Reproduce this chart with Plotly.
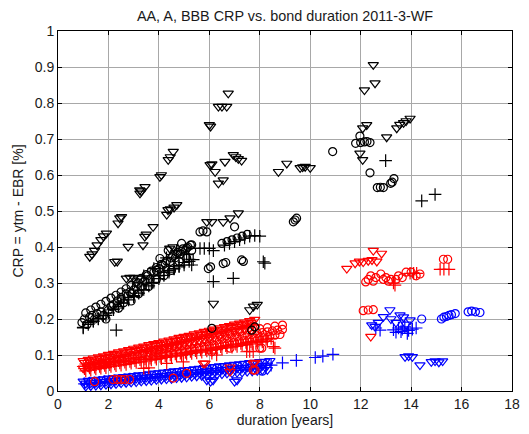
import plotly.graph_objects as go

# ---------------- data ----------------
# AA (blue)
aa_tri_x = [1.0,1.2,1.4,1.6,1.8,2.0,2.2,2.4,2.6,2.8,3.0,3.2,3.4,3.6,3.8,4.0,4.2,4.4,4.6,4.8,5.0,5.2,5.4,5.6,5.8,6.0,6.2,6.4,6.6,6.8,7.0,7.2,7.4,7.6,7.8,8.0,8.2,8.4,
            1.1,1.3,1.5,1.7,1.9,2.1,2.3,2.5,2.7,2.9,3.1,3.3,3.5,3.7,3.9,4.1,4.3,4.5,4.7,4.9,5.1,5.3,5.5,5.7,5.9,6.1,6.3,6.5,6.7,6.9,7.1,7.3,7.5,7.7,7.9,8.1,8.3,
            1.1,1.3,1.5,1.7,1.9,2.1,2.3,2.5,2.7,2.9,3.1,3.3,3.5,3.7,3.9,4.1,4.3,4.5,4.7,4.9,5.1,5.3,5.5,5.7,5.9,6.1,6.3,6.5,6.7,6.9,7.1,7.3,7.5,7.7,7.9,8.1,8.3,
            5.9,6.05,6.15,7.0,7.1,
            13.16,12.44,12.57,12.9,13.56,13.96,12.7,13.2,13.4,13.7,13.8,
            13.76,13.9,14.05,14.35,14.8,14.95,15.1,15.25]
aa_tri_y = [0.027,0.029,0.030,0.032,0.033,0.035,0.036,0.038,0.039,0.041,0.042,0.044,0.045,0.047,0.049,0.050,0.052,0.053,0.055,0.056,0.058,0.059,0.061,0.062,0.064,0.066,0.067,0.069,0.070,0.072,0.073,0.075,0.076,0.078,0.079,0.081,0.082,0.084,
            0.013,0.014,0.015,0.016,0.018,0.019,0.020,0.022,0.023,0.024,0.025,0.027,0.028,0.029,0.031,0.032,0.033,0.034,0.036,0.037,0.038,0.040,0.041,0.042,0.043,0.045,0.046,0.047,0.049,0.050,0.051,0.052,0.054,0.055,0.056,0.058,0.059,
            0.021,0.022,0.023,0.025,0.026,0.028,0.029,0.031,0.032,0.033,0.035,0.036,0.038,0.039,0.040,0.042,0.043,0.045,0.046,0.047,0.049,0.050,0.052,0.053,0.055,0.056,0.057,0.059,0.060,0.062,0.063,0.064,0.066,0.067,0.069,0.070,0.071,
            0.030,0.026,0.030,0.026,0.030,
            0.225,0.183,0.179,0.206,0.211,0.197,0.190,0.200,0.190,0.205,0.185,
            0.095,0.097,0.095,0.072,0.081,0.083,0.080,0.083]
aa_plus_x = [1.05,1.25,1.45,1.65,1.85,2.05,2.25,2.45,2.65,2.85,3.05,3.25,3.45,3.65,3.85,4.05,4.25,4.45,4.65,4.85,5.05,5.25,5.45,5.65,5.85,6.05,6.25,6.45,6.65,6.85,7.05,7.25,7.45,7.65,7.85,8.05,8.25,8.45,
             8.9,9.45,10.2,10.5,10.9,
             12.77,13.3,13.5,13.6,13.75,13.9,14.05,14.2,13.4,13.65,13.85,12.6]
aa_plus_y = [0.020,0.022,0.023,0.024,0.026,0.027,0.028,0.030,0.031,0.033,0.034,0.035,0.037,0.038,0.040,0.041,0.043,0.044,0.045,0.047,0.048,0.050,0.051,0.052,0.054,0.055,0.057,0.058,0.059,0.061,0.062,0.064,0.065,0.066,0.068,0.069,0.071,0.072,
             0.078,0.085,0.093,0.097,0.102,
             0.169,0.170,0.175,0.165,0.178,0.168,0.172,0.175,0.163,0.172,0.160,0.175]
aa_circ_x = [8.1,14.42,15.2,15.3,15.4,15.5,15.6,15.75,16.26,16.4,16.55,16.73]
aa_circ_y = [0.055,0.200,0.200,0.205,0.207,0.210,0.212,0.215,0.220,0.222,0.220,0.218]

# A (red)
a_tri_x = [1.0,1.2,1.4,1.6,1.8,2.0,2.2,2.4,2.6,2.8,3.0,3.2,3.4,3.6,3.8,4.0,4.2,4.4,4.6,4.8,5.0,5.2,5.4,5.6,5.8,6.0,6.2,6.4,6.6,6.8,7.0,7.2,7.4,7.6,7.8,
           1.0,1.2,1.4,1.6,1.8,2.0,2.2,2.4,2.6,2.8,3.0,3.2,3.4,3.6,3.8,4.0,4.2,4.4,4.6,4.8,5.0,5.2,5.4,5.6,5.8,6.0,6.2,6.4,6.6,6.8,7.0,7.2,7.4,7.6,7.8,
           1.05,1.25,1.45,1.65,1.85,2.05,2.25,2.45,2.65,2.85,3.05,3.25,3.45,3.65,3.85,4.05,4.25,4.45,4.65,4.85,5.05,5.25,5.45,5.65,5.85,6.05,6.25,6.45,6.65,6.85,7.05,7.25,7.45,7.65,
           5.83,6.82,7.74,5.76,6.82,7.81,
           11.45,11.78,11.95,12.1,12.3,12.45,12.64,12.5,12.83,12.4]
a_tri_y = [0.084,0.087,0.091,0.094,0.097,0.101,0.104,0.108,0.111,0.114,0.118,0.121,0.124,0.128,0.131,0.134,0.138,0.141,0.144,0.148,0.151,0.154,0.158,0.161,0.165,0.168,0.171,0.175,0.178,0.181,0.185,0.188,0.191,0.195,0.198,
           0.063,0.066,0.070,0.073,0.076,0.080,0.083,0.087,0.090,0.093,0.097,0.100,0.103,0.107,0.110,0.113,0.117,0.120,0.123,0.127,0.130,0.133,0.137,0.140,0.144,0.147,0.150,0.154,0.157,0.160,0.164,0.167,0.170,0.174,0.177,
           0.079,0.082,0.085,0.089,0.092,0.095,0.099,0.102,0.105,0.109,0.112,0.115,0.119,0.122,0.126,0.129,0.132,0.136,0.139,0.142,0.146,0.149,0.152,0.156,0.159,0.162,0.166,0.169,0.172,0.176,0.179,0.183,0.186,0.189,
           0.077,0.054,0.077,0.077,0.066,0.079,
           0.340,0.355,0.360,0.358,0.362,0.364,0.360,0.390,0.382,0.151]
a_plus_x = [1.1,1.3,1.5,1.7,1.9,2.1,2.3,2.5,2.7,2.9,3.1,3.3,3.5,3.7,3.9,4.1,4.3,4.5,4.7,4.9,5.1,5.3,5.5,5.7,5.9,6.1,6.3,6.5,6.7,6.9,7.1,7.3,7.5,7.7,
            1.1,1.3,1.5,1.7,1.9,2.1,2.3,2.5,2.7,2.9,3.1,3.3,3.5,3.7,3.9,4.1,4.3,4.5,4.7,4.9,5.1,5.3,5.5,5.7,5.9,6.1,6.3,6.5,6.7,6.9,7.1,7.3,7.5,7.7,7.9,8.1,8.3,
            1.05,1.25,1.45,1.65,1.85,2.05,2.25,2.45,2.65,2.85,3.05,3.25,3.45,3.65,3.85,4.05,4.25,4.45,4.65,4.85,5.05,5.25,5.45,5.65,5.85,6.05,6.25,6.45,6.65,6.85,7.05,7.25,7.45,7.65,7.85,8.05,8.25,8.45,
            1.0,1.2,1.4,1.6,1.8,2.0,2.2,2.4,2.6,2.8,3.0,3.2,3.4,
            3.4,3.6,4.31,4.97,6.1,6.29,7.48,7.6,7.74,8.54,8.6,
            13.36,13.3,15.15,15.3,15.5,13.96,14.1,14.22]
a_plus_y = [0.075,0.078,0.081,0.085,0.088,0.091,0.095,0.098,0.102,0.105,0.108,0.112,0.115,0.118,0.122,0.125,0.128,0.132,0.135,0.138,0.142,0.145,0.148,0.152,0.155,0.158,0.162,0.165,0.169,0.172,0.175,0.179,0.182,0.185,
            0.056,0.058,0.061,0.063,0.065,0.068,0.070,0.072,0.074,0.077,0.079,0.081,0.083,0.086,0.088,0.090,0.093,0.095,0.097,0.099,0.102,0.104,0.106,0.108,0.111,0.113,0.115,0.118,0.120,0.122,0.124,0.127,0.129,0.131,0.134,0.136,0.138,
            0.062,0.064,0.066,0.068,0.071,0.073,0.075,0.078,0.080,0.082,0.084,0.087,0.089,0.091,0.094,0.096,0.098,0.100,0.103,0.105,0.107,0.110,0.112,0.114,0.116,0.119,0.121,0.123,0.126,0.128,0.130,0.132,0.135,0.137,0.139,0.142,0.144,0.146,
            0.068,0.070,0.073,0.075,0.077,0.079,0.082,0.084,0.086,0.089,0.091,0.093,0.095,
            0.063,0.064,0.077,0.081,0.105,0.100,0.109,0.110,0.109,0.123,0.119,
            0.294,0.300,0.338,0.338,0.338,0.327,0.327,0.327]
a_circ_x = [3.6,3.8,4.0,4.2,4.4,4.6,4.8,5.0,5.2,5.4,5.6,5.8,6.0,6.2,6.4,6.6,6.8,7.0,7.2,7.4,7.6,7.8,8.0,8.2,8.4,8.6,8.8,
            3.7,3.9,4.1,4.3,4.5,4.7,4.9,5.1,5.3,5.5,5.7,5.9,6.1,6.3,6.5,6.7,6.9,7.1,7.3,7.5,7.7,7.9,8.1,8.3,8.5,8.7,8.9,
            6.0,6.4,6.8,7.2,7.6,8.0,8.3,8.6,8.9,
            1.45,2.18,2.35,2.5,2.65,2.84,4.57,5.1,7.74,7.81,6.09,6.82,8.0,8.08,
            12.3,12.4,12.5,12.6,12.8,12.9,13.1,13.2,13.4,13.5,13.65,13.8,14.0,14.2,14.35,12.2,13.0,
            15.28,15.45,12.1,12.3,12.5]
a_circ_y = [0.098,0.100,0.102,0.104,0.107,0.109,0.111,0.114,0.116,0.118,0.120,0.123,0.125,0.127,0.130,0.132,0.134,0.136,0.139,0.141,0.143,0.146,0.148,0.150,0.152,0.155,0.157,
            0.112,0.114,0.116,0.119,0.121,0.123,0.125,0.128,0.130,0.132,0.135,0.137,0.139,0.141,0.144,0.146,0.148,0.151,0.153,0.155,0.157,0.160,0.162,0.164,0.167,0.169,0.171,
            0.150,0.155,0.159,0.164,0.168,0.173,0.176,0.180,0.183,
            0.026,0.032,0.032,0.032,0.032,0.032,0.036,0.049,0.058,0.058,0.109,0.119,0.119,0.119,
            0.310,0.320,0.305,0.315,0.325,0.310,0.305,0.310,0.310,0.320,0.315,0.330,0.330,0.320,0.325,0.303,0.315,
            0.366,0.366,0.223,0.225,0.226]

# BBB (black)
bbb_tri_x = [6.75,6.36,6.5,6.69,6.0,6.05,4.57,4.37,4.45,4.04,4.1,3.45,3.25,3.3,6.03,6.1,6.23,6.62,6.95,7.05,7.15,7.28,6.36,6.55,
             2.52,4.31,4.45,4.6,4.71,7.15,5.9,6.1,6.55,6.82,1.26,1.35,1.45,1.55,1.7,1.8,1.92,2.45,2.38,2.25,2.35,2.78,3.37,3.44,3.5,3.77,
             4.43,4.56,3.24,4.36,2.71,2.85,3.0,3.17,6.16,7.6,7.75,7.9,8.74,9.07,9.6,9.7,9.8,10.0,
             12.5,12.57,12.15,12.24,12.08,13.03,13.43,13.55,13.7,13.8,13.96,11.97,12.08]
bbb_tri_y = [0.827,0.790,0.790,0.790,0.739,0.735,0.665,0.642,0.650,0.595,0.600,0.567,0.549,0.555,0.628,0.630,0.609,0.637,0.656,0.650,0.645,0.640,0.577,0.586,
             0.484,0.490,0.505,0.510,0.517,0.494,0.470,0.470,0.470,0.480,0.373,0.380,0.390,0.405,0.420,0.430,0.438,0.480,0.466,0.359,0.360,0.401,0.405,0.429,0.435,0.456,
             0.396,0.400,0.558,0.503,0.313,0.315,0.315,0.313,0.243,0.225,0.235,0.240,0.609,0.632,0.620,0.622,0.623,0.620,
             0.906,0.855,0.836,0.739,0.730,0.705,0.730,0.740,0.745,0.750,0.757,0.660,0.642]
bbb_circ_x = [0.95,1.05,1.15,1.25,1.35,1.45,1.55,1.7,1.8,2.0,2.1,2.2,2.35,2.5,2.6,2.7,2.85,3.0,3.1,3.2,3.3,3.45,3.55,3.65,3.8,3.9,4.0,4.04,4.15,4.25,4.37,4.45,4.55,4.65,4.75,4.85,4.95,5.05,5.15,5.25,
              1.1,1.3,1.5,1.7,1.9,2.1,2.3,2.5,2.7,2.9,3.1,3.3,3.5,3.7,3.9,4.1,4.3,4.5,4.7,4.9,5.1,5.3,
              4.2,4.5,4.8,5.1,5.3,4.9,3.6,3.9,3.2,2.9,2.4,1.9,
              5.63,5.75,5.9,5.96,6.05,6.55,6.65,7.28,7.35,6.5,6.7,6.9,7.0,7.1,7.3,7.5,9.33,9.4,9.46,6.1,7.68,7.8,
              10.89,11.8,11.97,12.0,12.15,12.25,12.37,12.37,12.66,12.78,12.9,13.19,13.25,13.32,2.5,2.9]
bbb_circ_y = [0.190,0.200,0.185,0.205,0.210,0.200,0.215,0.220,0.210,0.225,0.235,0.240,0.250,0.255,0.245,0.270,0.275,0.280,0.290,0.300,0.290,0.305,0.320,0.310,0.330,0.335,0.340,0.368,0.350,0.355,0.390,0.360,0.375,0.370,0.385,0.380,0.395,0.390,0.400,0.405,
              0.217,0.225,0.233,0.241,0.249,0.258,0.266,0.275,0.284,0.293,0.303,0.313,0.323,0.333,0.343,0.352,0.361,0.370,0.379,0.388,0.397,0.406,
              0.320,0.335,0.360,0.370,0.390,0.410,0.290,0.310,0.270,0.250,0.230,0.200,
              0.442,0.445,0.442,0.340,0.345,0.354,0.357,0.364,0.360,0.410,0.415,0.420,0.456,0.425,0.430,0.435,0.470,0.475,0.480,0.174,0.169,0.178,
              0.665,0.688,0.708,0.690,0.692,0.693,0.690,0.606,0.565,0.566,0.565,0.577,0.580,0.590,0.260,0.270]
bbb_plus_x = [1.0,1.2,1.4,1.6,1.9,2.31,2.2,2.5,2.8,3.0,3.3,3.5,3.7,4.0,4.2,4.4,4.6,4.8,5.0,5.2,5.36,5.63,5.8,6.0,6.16,6.16,6.95,8.14,8.2,
              6.6,6.8,7.0,7.2,7.4,7.6,7.8,8.0,12.99,14.42,14.95,
              1.0,1.2,1.4,1.6,1.8,2.0,2.2,2.4,2.6,2.8,3.0,3.2,3.4,3.6,3.8,4.0,4.2,4.4,4.6,4.8,5.0,5.2,
              4.3,4.7,5.1,3.8,3.4,5.3]
bbb_plus_y = [0.175,0.190,0.195,0.200,0.210,0.169,0.230,0.245,0.260,0.265,0.280,0.300,0.300,0.320,0.330,0.335,0.340,0.345,0.350,0.360,0.365,0.396,0.396,0.396,0.390,0.304,0.313,0.359,0.355,
              0.405,0.410,0.415,0.420,0.425,0.430,0.432,0.430,0.640,0.528,0.546,
              0.177,0.185,0.193,0.201,0.209,0.217,0.226,0.235,0.244,0.253,0.262,0.272,0.282,0.292,0.302,0.312,0.321,0.330,0.339,0.348,0.357,0.366,
              0.370,0.390,0.380,0.340,0.320,0.350]

x_ticks = [0, 2, 4, 6, 8, 10, 12, 14, 16, 18]
y_ticks = [0, 0.1, 0.2, 0.3, 0.4, 0.5, 0.6, 0.7, 0.8, 0.9, 1]
y_tick_labels = ["0", "0.1", "0.2", "0.3", "0.4", "0.5", "0.6", "0.7", "0.8", "0.9", "1"]

BLUE = "#0000ff"
RED = "#ff0000"
BLACK = "#000000"

series = [
    (aa_tri_x, aa_tri_y, BLUE, "triangle-down-open", 9),
    (aa_plus_x, aa_plus_y, BLUE, "cross-thin-open", 9),
    (aa_circ_x, aa_circ_y, BLUE, "circle-open", 8),
    (a_tri_x, a_tri_y, RED, "triangle-down-open", 9),
    (a_plus_x, a_plus_y, RED, "cross-thin-open", 9),
    (a_circ_x, a_circ_y, RED, "circle-open", 8),
    (bbb_tri_x, bbb_tri_y, BLACK, "triangle-down-open", 9),
    (bbb_circ_x, bbb_circ_y, BLACK, "circle-open", 8),
    (bbb_plus_x, bbb_plus_y, BLACK, "cross-thin-open", 9),
]

fig = go.Figure()
for xs, ys, col, sym, sz in series:
    fig.add_trace(go.Scatter(
        x=xs, y=ys, mode="markers",
        marker=dict(symbol=sym, size=sz, color=col, line=dict(color=col, width=1.2)),
        showlegend=False, hoverinfo="skip"))

# The page body has an 8px default margin, so the figure is 8px smaller
# and margins are reduced on the left/top to land the axes in place.
font_family = "Liberation Sans, Arial, sans-serif"
fig.update_layout(
    width=521, height=426,
    margin=dict(l=50, r=17, t=23, b=43, autoexpand=False),
    paper_bgcolor="white", plot_bgcolor="white",
    font=dict(family=font_family, size=14, color="#1a1a1a"),
    title=dict(text="AA, A, BBB CRP vs. bond duration 2011-3-WF", x=0.5317, xanchor="center",
               y=0.981, yanchor="middle", font=dict(size=14.4, color="#1a1a1a")),
    xaxis=dict(range=[0, 18], tickvals=x_ticks, ticktext=[str(v) for v in x_ticks],
               automargin=False,
               showgrid=True, gridcolor="#a8a8a8", gridwidth=1, zeroline=False,
               showline=True, linecolor="black", linewidth=1, mirror="ticks",
               ticks="inside", ticklen=4, tickcolor="black",
               title=dict(text="duration [years]", standoff=4, font=dict(size=14))),
    yaxis=dict(range=[0, 1], tickvals=y_ticks, ticktext=y_tick_labels,
               automargin=False,
               showgrid=True, gridcolor="#a8a8a8", gridwidth=1, zeroline=False,
               showline=True, linecolor="black", linewidth=1, mirror="ticks",
               ticks="inside", ticklen=4, tickcolor="black",
               title=dict(text="CRP = ytm - EBR [%]", standoff=7, font=dict(size=14))),
)

fig.write_html("out.html")
